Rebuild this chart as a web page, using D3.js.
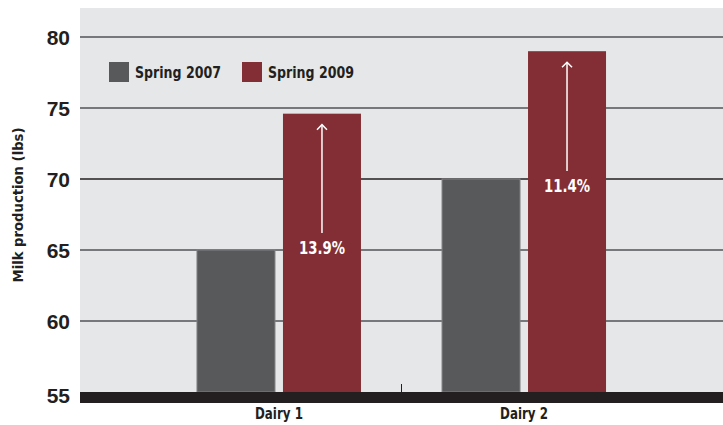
<!DOCTYPE html>
<html>
<head>
<meta charset="utf-8">
<script src="https://cdn.jsdelivr.net/npm/d3@7"></script>
<style>
  body { margin: 0; background: #fff; }
  svg { display: block; }
</style>
</head>
<body>
<div id="chart"></div>
<script>
// Milk production per dairy, spring 2007 vs spring 2009
const dairies = ['Dairy 1', 'Dairy 2'];
const seriesNames = ['Spring 2007', 'Spring 2009'];
const spring2007 = [65, 70];
const spring2009 = [74.6, 79];
const changeLabels = ['13.9%', '11.4%'];
const yTicks = [55, 60, 65, 70, 75, 80];

const width = 723, height = 425;
const plotLeft = 80, plotRight = 723, plotTop = 8, plotBottom = 392;
const narrow = '"Liberation Sans Narrow", "DejaVu Sans Condensed", "Roboto Condensed", sans-serif';
const colors = ['#58595b', '#822e34'];

const svg = d3.select('#chart').append('svg')
    .attr('width', width)
    .attr('height', height);

// arrow marker
svg.append('defs').append('marker')
    .attr('id', 'arrowhead')
    .attr('markerWidth', 12)
    .attr('markerHeight', 12)
    .attr('refX', 6)
    .attr('refY', 6)
    .attr('orient', 'auto')
    .attr('markerUnits', 'userSpaceOnUse')
    .append('path')
    .attr('d', 'M1,1 L6,6 L1,11')
    .attr('fill', 'none')
    .attr('stroke', '#fff')
    .attr('stroke-width', 1.5);

const y = d3.scaleLinear().domain([55, 80]).range([plotBottom, 37]);
const x = d3.scaleBand().domain(dairies).range([plotLeft, plotRight]).paddingInner(0).paddingOuter(0.312);
const xSub = d3.scaleBand().domain(seriesNames).range([0, 164]).paddingInner(0.093);

// plot background
svg.append('rect')
    .attr('x', plotLeft).attr('y', plotTop)
    .attr('width', plotRight - plotLeft).attr('height', plotBottom - plotTop)
    .attr('fill', '#e6e7e8');

// gridlines
svg.append('g').selectAll('line')
    .data(yTicks.filter(t => t > 55))
    .enter().append('line')
    .attr('x1', plotLeft).attr('x2', plotRight)
    .attr('y1', d => y(d)).attr('y2', d => y(d))
    .attr('stroke', d => d === 70 ? '#231f20' : '#77787b')
    .attr('stroke-width', d => d === 70 ? 1.5 : 2);

// tick labels
svg.append('g').selectAll('text')
    .data(yTicks)
    .enter().append('text')
    .attr('x', 70)
    .attr('y', d => d === 55 ? y(d) + 3 : y(d))
    .attr('dy', '0.36em')
    .attr('text-anchor', 'end')
    .attr('font-family', 'Arial, "Liberation Sans", sans-serif')
    .attr('font-size', 21)
    .attr('font-weight', 'bold')
    .attr('fill', '#231f20')
    .text(d => d);

// bars
const rows = dairies.map((d, i) => ({ dairy: d, values: [spring2007[i], spring2009[i]], label: changeLabels[i] }));

const groups = svg.append('g').selectAll('g.dairy')
    .data(rows)
    .enter().append('g')
    .attr('class', 'dairy')
    .attr('transform', d => `translate(${x(d.dairy) + x.bandwidth() / 2 - 82},0)`);

groups.selectAll('rect')
    .data(d => d.values.map((v, j) => ({ series: seriesNames[j], value: v, j: j })))
    .enter().append('rect')
    .attr('x', d => xSub(d.series))
    .attr('y', d => y(d.value))
    .attr('width', xSub.bandwidth())
    .attr('height', d => plotBottom - y(d.value))
    .attr('fill', d => colors[d.j])
    .attr('stroke', d => d.j === 0 ? '#808285' : 'none')
    .attr('stroke-width', 1);

// change arrows + labels
groups.each(function(d) {
    const g = d3.select(this);
    const cx = xSub(seriesNames[1]) + xSub.bandwidth() / 2;
    const labelY = y(d.values[0]) + (d.dairy === 'Dairy 1' ? -2 : 7);
    g.append('line')
        .attr('x1', cx).attr('x2', cx)
        .attr('y1', labelY - 15)
        .attr('y2', y(d.values[1]) + 11)
        .attr('stroke', '#fff')
        .attr('stroke-width', 1.5)
        .attr('marker-end', 'url(#arrowhead)');
    g.append('text')
        .attr('x', cx)
        .attr('y', labelY)
        .attr('dy', '0.36em')
        .attr('text-anchor', 'middle')
        .attr('font-family', narrow)
        .attr('font-size', 17)
        .attr('font-weight', 'bold')
        .attr('fill', '#fff')
        .attr('textLength', 46)
        .attr('lengthAdjust', 'spacingAndGlyphs')
        .text(d.label);
});

// baseline band + divider tick
svg.append('rect')
    .attr('x', plotLeft).attr('y', plotBottom)
    .attr('width', plotRight - plotLeft).attr('height', 11)
    .attr('fill', '#231f20');
svg.append('line')
    .attr('x1', x('Dairy 2')).attr('x2', x('Dairy 2'))
    .attr('y1', plotBottom - 8).attr('y2', plotBottom)
    .attr('stroke', '#231f20').attr('stroke-width', 1);

// category labels
svg.append('g').selectAll('text')
    .data(dairies)
    .enter().append('text')
    .attr('x', d => x(d) + x.bandwidth() / 2)
    .attr('y', 414)
    .attr('dy', '0.36em')
    .attr('text-anchor', 'middle')
    .attr('font-family', narrow)
    .attr('font-size', 15)
    .attr('font-weight', 'bold')
    .attr('fill', '#231f20')
    .attr('textLength', 48)
    .attr('lengthAdjust', 'spacingAndGlyphs')
    .text(d => d);

// y title
svg.append('text')
    .attr('transform', 'translate(18,205) rotate(-90)')
    .attr('dy', '0.36em')
    .attr('text-anchor', 'middle')
    .attr('font-family', narrow)
    .attr('font-size', 13.5)
    .attr('font-weight', 'bold')
    .attr('fill', '#231f20')
    .attr('textLength', 155)
    .attr('lengthAdjust', 'spacingAndGlyphs')
    .text('Milk production (lbs)');

// legend
const legend = svg.append('g').selectAll('g')
    .data(seriesNames)
    .enter().append('g')
    .attr('transform', (d, i) => `translate(${109 + i * 133},62)`);
legend.append('rect')
    .attr('width', 20).attr('height', 20)
    .attr('fill', (d, i) => colors[i]);
legend.append('text')
    .attr('x', 26).attr('y', 10)
    .attr('dy', '0.36em')
    .attr('font-family', narrow)
    .attr('font-size', 16)
    .attr('font-weight', 'bold')
    .attr('fill', '#231f20')
    .attr('textLength', 86)
    .attr('lengthAdjust', 'spacingAndGlyphs')
    .text(d => d);
</script>
</body>
</html>
